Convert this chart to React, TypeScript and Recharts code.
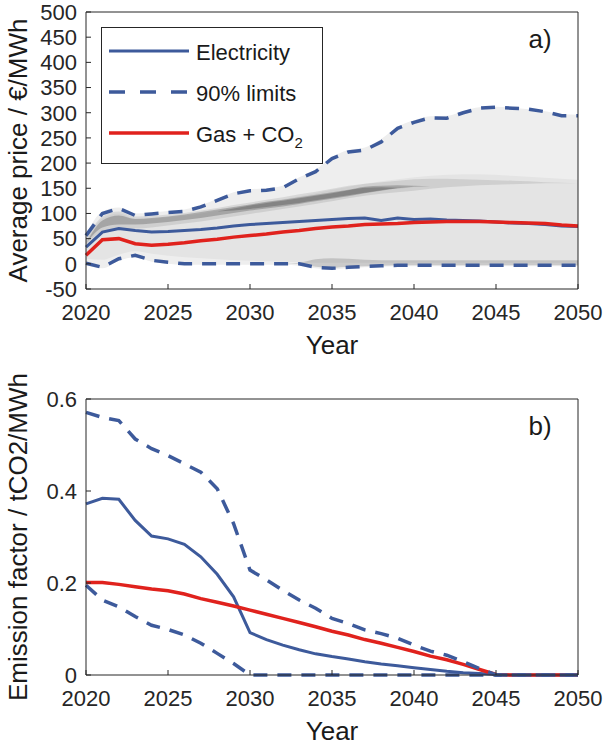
import { Area, ComposedChart, Legend, Line, XAxis, YAxis } from "recharts";

// years on the x axis, one point per year
const YEARS = [
  2020, 2021, 2022, 2023, 2024, 2025, 2026, 2027, 2028, 2029, 2030,
  2031, 2032, 2033, 2034, 2035, 2036, 2037, 2038, 2039, 2040,
  2041, 2042, 2043, 2044, 2045, 2046, 2047, 2048, 2049, 2050,
];
const YEAR_TICKS = [2020, 2025, 2030, 2035, 2040, 2045, 2050];
const PRICE_TICKS = [-50, 0, 50, 100, 150, 200, 250, 300, 350, 400, 450, 500];
const EF_TICKS = [0, 0.2, 0.4, 0.6];

// a) average price, €/MWh
const PRICE_ELEC = [
  33, 63, 70, 66, 63, 64, 66, 68, 71, 75, 78,
  80, 82, 84, 86, 88, 90, 91, 86, 91, 88,
  89, 87, 86, 85, 83, 81, 80, 78, 75, 74,
];
const PRICE_UPPER = [
  56, 100, 110, 96, 99, 102, 104, 113, 126, 139, 145,
  146, 151, 169, 183, 209, 222, 226, 242, 269, 281,
  290, 289, 300, 309, 311, 309, 307, 302, 294, 294,
];
const PRICE_LOWER = [
  1, -7, 10, 17, 7, 3, 0, 0, 0, 0, 0,
  0, 0, 0, -7, -9, -7, -5, -4, -3, -3,
  -3, -3, -3, -3, -3, -3, -3, -3, -3, -3,
];
const PRICE_GAS = [
  17, 48, 50, 40, 37, 39, 42, 46, 49, 53, 56,
  59, 63, 66, 70, 73, 75, 78, 79, 80, 82,
  83, 84, 84, 84, 83, 82, 81, 80, 77, 75,
];

// density shading of the price distribution, [low, high] per band
const SHADE_OUTER_LOW = [
  -2, -9, 6, 13, 4, 0, -2, -2, -2, -2, -2,
  -2, -2, -4, -9, -11, -9, -7, -6, -5, -5,
  -5, -5, -5, -5, -5, -5, -5, -5, -5, -5,
];
const SHADE_OUTER_HIGH = [
  58, 104, 112, 100, 102, 105, 108, 116, 129, 142, 148,
  150, 155, 172, 187, 212, 226, 231, 248, 272, 285,
  293, 294, 303, 311, 312, 310, 307, 303, 297, 296,
];
const SHADE_MID_LOW = [
  10, 8, 18, 25, 20, 16, 13, 11, 9, 7, 6,
  5, 4, 3, 2, 2, 2, 2, 2, 2, 2,
  2, 2, 2, 2, 2, 2, 2, 2, 2, 2,
];
const SHADE_MID_HIGH = [
  45, 90, 100, 90, 90, 93, 96, 100, 106, 112, 118,
  123, 128, 134, 140, 147, 153, 159, 164, 168, 172,
  175, 177, 178, 178, 177, 175, 173, 171, 169, 167,
];
const SHADE_RIDGE_LOW = [
  38, 64, 70, 70, 72, 76, 80, 84, 89, 94, 99,
  104, 109, 114, 119, 124, 130, 135, 139, 142, 145,
  149, 152, 154, 156, 157, 158, 159, 160, 160, 160,
];
const SHADE_RIDGE_HIGH = [
  48, 94, 104, 94, 95, 98, 101, 106, 111, 117, 122,
  127, 132, 138, 143, 149, 155, 159, 162, 165, 168,
  169, 169, 168, 167, 166, 165, 164, 162, 161, 160,
];
const SHADE_CORE_LOW = [
  40, 72, 78, 78, 80, 83, 87, 91, 96, 101, 106,
  110, 114, 119, 124, 129, 134, 140, 145, 150, 153,
  154, 154, 154, 154, 154, 154, 154, 154, 154, 154,
];
const SHADE_CORE_HIGH = [
  40, 86, 96, 89, 91, 94, 98, 103, 108, 113, 118,
  123, 127, 132, 137, 142, 147, 153, 155, 156, 155,
  154, 154, 154, 154, 154, 154, 154, 154, 154, 154,
];
// darkest streak, only between 2028 and 2040
const SHADE_PEAK_LOW = [
  null, null, null, null, null, null, null, null, 104, 106, 109,
  113, 117, 121, 126, 131, 136, 141, 146, 150, 151,
  null, null, null, null, null, null, null, null, null, null,
];
const SHADE_PEAK_HIGH = [
  null, null, null, null, null, null, null, null, 104, 110, 116,
  121, 125, 130, 135, 140, 146, 151, 152, 151, 151,
  null, null, null, null, null, null, null, null, null, null,
];
const SHADE_FLOOR_LOW = [
  0, 0, 0, 0, 0, 0, 0, 0, 0, 0, 0,
  0, 0, 0, -6, -8, -6, -5, -4, -3, -3,
  -3, -3, -3, -3, -3, -3, -3, -3, -3, -3,
];
const SHADE_FLOOR_HIGH = [
  0, 0, 0, 0, 0, 0, 0, 0, 0, 0, 0,
  0, 0, 2, 9, 11, 10, 8, 7, 7, 7,
  7, 7, 7, 7, 7, 7, 7, 7, 7, 7,
];

// b) emission factor, tCO2/MWh
const EF_ELEC = [
  0.372, 0.384, 0.382, 0.336, 0.302, 0.296, 0.284, 0.257, 0.219, 0.17, 0.092,
  0.077, 0.065, 0.055, 0.046, 0.04, 0.035, 0.029, 0.024, 0.02, 0.016,
  0.012, 0.008, 0.005, 0.003, 0.001, 0, 0, 0, 0, 0,
];
const EF_UPPER = [
  0.571, 0.56, 0.553, 0.513, 0.492, 0.477, 0.459, 0.441, 0.405, 0.329, 0.228,
  0.207, 0.184, 0.163, 0.145, 0.123, 0.112, 0.098, 0.09, 0.08, 0.065,
  0.052, 0.043, 0.029, 0.014, 0, 0, 0, 0, 0, 0,
];
const EF_LOWER = [
  0.195, 0.163, 0.148, 0.127, 0.108, 0.099, 0.087, 0.069, 0.047, 0.025, 0,
  0, 0, 0, 0, 0, 0, 0, 0, 0, 0,
  0, 0, 0, 0, 0, 0, 0, 0, 0, 0,
];
const EF_GAS = [
  0.201, 0.201, 0.197, 0.192, 0.187, 0.183, 0.176, 0.166, 0.158, 0.15, 0.141,
  0.132, 0.123, 0.114, 0.105, 0.095, 0.087, 0.077, 0.069, 0.06, 0.051,
  0.041, 0.033, 0.023, 0.012, 0.001, 0, 0, 0, 0, 0,
];

const BLUE = "#3d5a9b";
const RED = "#e0221d";
const AXIS = "#262626";
const FONT = "'Liberation Sans', Arial, Helvetica, sans-serif";
const DASH = "14 10";

const LEGEND_ITEMS = [
  { name: "Electricity", color: BLUE, width: 3, dash: undefined },
  { name: "90% limits", color: BLUE, width: 3.5, dash: "16 15" },
  { name: "Gas + CO", sub: "2", color: RED, width: 3.5, dash: undefined },
];

const priceRows = YEARS.map((year, i) => ({
  year,
  elec: PRICE_ELEC[i],
  upper: PRICE_UPPER[i],
  lower: PRICE_LOWER[i],
  gas: PRICE_GAS[i],
  outer: [SHADE_OUTER_LOW[i], SHADE_OUTER_HIGH[i]],
  mid: [SHADE_MID_LOW[i], SHADE_MID_HIGH[i]],
  ridge: [SHADE_RIDGE_LOW[i], SHADE_RIDGE_HIGH[i]],
  core: [SHADE_CORE_LOW[i], SHADE_CORE_HIGH[i]],
  peak: SHADE_PEAK_LOW[i] == null ? null : [SHADE_PEAK_LOW[i], SHADE_PEAK_HIGH[i]],
  floor: [SHADE_FLOOR_LOW[i], SHADE_FLOOR_HIGH[i]],
}));

const efRows = YEARS.map((year, i) => ({
  year,
  elec: EF_ELEC[i],
  upper: EF_UPPER[i],
  lower: EF_LOWER[i],
  gas: EF_GAS[i],
}));

const tickStyle = { fontSize: 22, fill: AXIS, fontFamily: FONT };

function LegendBox() {
  return (
    <svg width={222} height={137} style={{ display: "block" }}>
      <rect x={0.5} y={0.5} width={221} height={136} fill="#fff" stroke={AXIS} strokeWidth={1} />
      {LEGEND_ITEMS.map((it, i) => {
        const y = 24 + i * 41;
        return (
          <g key={it.name}>
            <line x1={8} x2={88} y1={y} y2={y} stroke={it.color} strokeWidth={it.width} strokeDasharray={it.dash} />
            <text x={95} y={y + 1} dominantBaseline="central" fontSize={22} fontFamily={FONT} fill="#1a1a1a">
              {it.name}
              {it.sub && (
                <tspan fontSize={15} dy={8}>
                  {it.sub}
                </tspan>
              )}
            </text>
          </g>
        );
      })}
    </svg>
  );
}

// box with inward ticks on all four sides, matlab style.
// axes get 1px of room: recharts skips drawing an axis of zero size
function Frame({ ticks, domain, fmt }: { ticks: number[]; domain: [number, number]; fmt?: (v: number) => string }) {
  return [
    <XAxis
      key="xb"
      type="number"
      dataKey="year"
      domain={[2020, 2050]}
      ticks={YEAR_TICKS}
      interval={0}
      height={1}
      tickSize={-5}
      tickMargin={20}
      stroke={AXIS}
      tick={tickStyle}
    />,
    <XAxis
      key="xt"
      xAxisId="top"
      orientation="top"
      type="number"
      domain={[2020, 2050]}
      ticks={YEAR_TICKS}
      interval={0}
      height={1}
      tickSize={-5}
      tick={false}
      stroke={AXIS}
    />,
    <YAxis
      key="yl"
      type="number"
      domain={domain}
      ticks={ticks}
      interval={0}
      width={1}
      tickSize={-5}
      tickMargin={14}
      stroke={AXIS}
      tick={tickStyle}
      tickFormatter={fmt}
    />,
    <YAxis
      key="yr"
      yAxisId="right"
      orientation="right"
      type="number"
      domain={domain}
      ticks={ticks}
      interval={0}
      width={1}
      tickSize={-5}
      tick={false}
      stroke={AXIS}
    />,
  ];
}

function Labels({ ylabel, tag, plotTop, plotBottom }: { ylabel: string; tag: string; plotTop: number; plotBottom: number }) {
  const cy = (plotTop + plotBottom) / 2;
  return (
    <svg width={606} height={375} style={{ position: "absolute", left: 0, top: 0, pointerEvents: "none" }}>
      <text
        x={27}
        y={cy}
        transform={`rotate(-90 27 ${cy})`}
        textAnchor="middle"
        fontSize={26}
        fontFamily={FONT}
        fill="#1a1a1a"
      >
        {ylabel}
      </text>
      <text x={332} y={plotBottom + 65} textAnchor="middle" fontSize={26} fontFamily={FONT} fill="#1a1a1a">
        Year
      </text>
      <text x={540} y={plotTop + 36} textAnchor="middle" fontSize={26} fontFamily={FONT} fill="#1a1a1a">
        {tag}
      </text>
    </svg>
  );
}

export default function App() {
  return (
    <div style={{ position: "absolute", left: 0, top: 0, width: 606, height: 745, background: "#fff" }}>
      <div style={{ position: "absolute", left: 0, top: 0, width: 606, height: 370 }}>
        <ComposedChart width={606} height={370} data={priceRows} margin={{ top: 11, right: 27, bottom: 80, left: 85 }}>
          {Frame({ ticks: PRICE_TICKS, domain: [-50, 500] })}
          <Area dataKey="outer" type="monotone" stroke="none" fill="#eeeeee" fillOpacity={1} isAnimationActive={false} />
          <Area dataKey="mid" type="monotone" stroke="none" fill="#000" fillOpacity={0.04} isAnimationActive={false} />
          <Area dataKey="ridge" type="monotone" stroke="none" fill="#000" fillOpacity={0.09} isAnimationActive={false} />
          <Area dataKey="core" type="monotone" stroke="none" fill="#000" fillOpacity={0.2} isAnimationActive={false} />
          <Area dataKey="peak" type="monotone" stroke="none" fill="#000" fillOpacity={0.2} isAnimationActive={false} />
          <Area dataKey="floor" type="monotone" stroke="none" fill="#000" fillOpacity={0.15} isAnimationActive={false} />
          <Line dataKey="elec" type="linear" stroke={BLUE} strokeWidth={3} dot={false} isAnimationActive={false} />
          <Line dataKey="gas" type="linear" stroke={RED} strokeWidth={3.5} dot={false} isAnimationActive={false} />
          <Line dataKey="upper" type="linear" stroke={BLUE} strokeWidth={3.5} strokeDasharray={DASH} dot={false} isAnimationActive={false} />
          <Line dataKey="lower" type="linear" stroke={BLUE} strokeWidth={3.5} strokeDasharray={DASH} dot={false} isAnimationActive={false} />
          <Legend
            layout="vertical"
            align="center"
            verticalAlign="middle"
            content={() => <LegendBox />}
            wrapperStyle={{ left: 101, top: 27, width: 222, height: 137 }}
          />
        </ComposedChart>
        <Labels ylabel="Average price / €/MWh" tag="a)" plotTop={12} plotBottom={289} />
      </div>
      <div style={{ position: "absolute", left: 0, top: 370, width: 606, height: 375 }}>
        <ComposedChart width={606} height={375} data={efRows} margin={{ top: 28, right: 27, bottom: 69, left: 85 }}>
          {Frame({ ticks: EF_TICKS, domain: [0, 0.6], fmt: (v: number) => String(v) })}
          <Line dataKey="elec" type="linear" stroke={BLUE} strokeWidth={3} dot={false} isAnimationActive={false} />
          <Line dataKey="gas" type="linear" stroke={RED} strokeWidth={3.5} dot={false} isAnimationActive={false} />
          <Line dataKey="upper" type="linear" stroke={BLUE} strokeWidth={3.5} strokeDasharray={DASH} dot={false} isAnimationActive={false} />
          <Line dataKey="lower" type="linear" stroke={BLUE} strokeWidth={3.5} strokeDasharray={DASH} dot={false} isAnimationActive={false} />
        </ComposedChart>
        <Labels ylabel="Emission factor / tCO2/MWh" tag="b)" plotTop={29} plotBottom={305} />
      </div>
    </div>
  );
}
